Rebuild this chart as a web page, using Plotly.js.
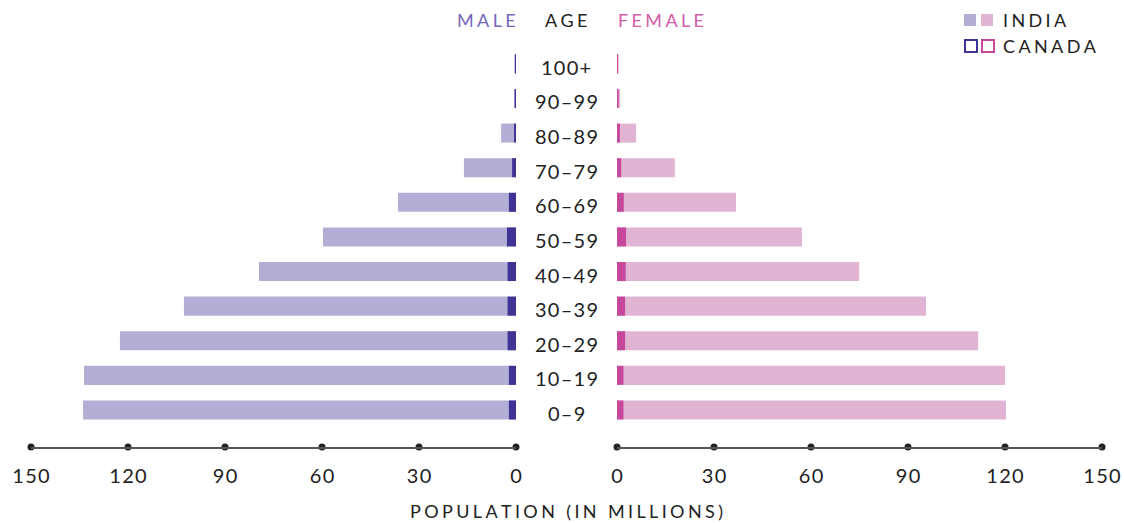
<!DOCTYPE html>
<html>
<head>
<meta charset="utf-8">
<script src="https://cdn.plot.ly/plotly-3.0.1.min.js"></script>
<style>html,body{margin:0;padding:0;background:#fff;}#chart{width:1124px;height:523px;}</style>
</head>
<body>
<div id="chart"></div>
<script>
// ---- data (millions) ----
const ages = ['0–9','10–19','20–29','30–39','40–49','50–59','60–69','70–79','80–89','90–99','100+'];
const indiaMale   = [133.9, 133.6, 122.5, 102.7, 79.5, 59.7, 36.5, 16.1, 4.6, 0.6, 0.1];
const indiaFemale = [120.3, 120.0, 111.7, 95.6, 74.9, 57.2, 36.8, 17.9, 5.9, 1.0, 0.3];
const canadaMale   = [2.2, 2.2, 2.6, 2.6, 2.6, 2.8, 2.2, 1.2, 0.6, 0.4, 0.4];
const canadaFemale = [2.0, 2.0, 2.5, 2.5, 2.7, 2.8, 2.1, 1.3, 0.9, 0.5, 0.4];
const tickVals = [0, 30, 60, 90, 120, 150];
const headers = ['MALE', 'AGE', 'FEMALE'];
const legendLabels = ['INDIA', 'CANADA'];
const axisTitle = 'POPULATION (IN MILLIONS)';

// ---- styles ----
const C = {
  indiaM: '#b3aed6', indiaF: '#e2b4d4',
  canM: '#3f3496', canF: '#c5489c',
  maleTxt: '#7467bb', femTxt: '#d45ca9', txt: '#222222', axis: '#555555'
};
const FONT = 'Lato, "Noto Sans", sans-serif';
const W = 1124, H = 523;
const M = {l: 31, r: 22, t: 40, b: 76};
const PW = W - M.l - M.r, PH = H - M.t - M.b;
const px = x => (x - M.l) / PW;
const py = y => (H - M.b - y) / PH;
const wide = s => s.split('').join('\u2009\u200A');
const tight = s => String(s).split('').join('\u200A');

const bar = (x, axis, color) => ({
  type: 'bar', orientation: 'h', y: ages, x: x, xaxis: axis, yaxis: 'y',
  marker: {color: color, line: {width: 0}}, hoverinfo: 'skip', showlegend: false
});
const dots = axis => ({
  type: 'scatter', mode: 'markers', x: tickVals, y: tickVals.map(() => 0),
  xaxis: axis, yaxis: 'y2', cliponaxis: false,
  marker: {color: '#222', size: 7}, hoverinfo: 'skip', showlegend: false
});

const data = [
  bar(indiaMale, 'x', C.indiaM),
  bar(indiaFemale, 'x2', C.indiaF),
  bar(canadaMale, 'x', C.canM),
  bar(canadaFemale, 'x2', C.canF),
  dots('x'), dots('x2')
];

const annotations = [];
ages.forEach(a => annotations.push({
  text: tight(a), x: px(566), xref: 'paper', y: a, yref: 'y', xanchor: 'center', yanchor: 'middle',
  yshift: -3, showarrow: false, font: {family: FONT, size: 20, color: C.txt}
}));
const headX = [486, 566, 661];
const headC = [C.maleTxt, C.txt, C.femTxt];
headers.forEach((h, i) => annotations.push({
  text: wide(h), x: px(headX[i]), xref: 'paper', y: py(20), yref: 'paper',
  xanchor: 'center', yanchor: 'middle', showarrow: false,
  font: {family: FONT, size: 18, color: headC[i]}
}));
legendLabels.forEach((l, i) => annotations.push({
  text: wide(l), x: px(1001), xref: 'paper', y: py(20 + 26 * i), yref: 'paper',
  xanchor: 'left', yanchor: 'middle', showarrow: false,
  font: {family: FONT, size: 18, color: C.txt}
}));
annotations.push({
  text: wide(axisTitle), x: px(566), xref: 'paper', y: py(511), yref: 'paper',
  xanchor: 'center', yanchor: 'middle', showarrow: false,
  font: {family: FONT, size: 18, color: C.txt}
});

const shapes = [];
const sq = (x, y, fill, stroke) => ({
  type: 'rect', xref: 'paper', yref: 'paper',
  x0: px(x), x1: px(x + 12), y0: py(y + 6), y1: py(y - 6),
  fillcolor: fill, line: {width: stroke ? 2 : 0, color: stroke || fill}
});
shapes.push(sq(964, 20, C.indiaM), sq(981, 20, C.indiaF));
shapes.push(sq(965, 46, 'rgba(0,0,0,0)', C.canM), sq(982, 46, 'rgba(0,0,0,0)', C.canF));

const xcommon = {
  tickvals: tickVals, ticktext: tickVals.map(tight), ticks: '', showgrid: false, zeroline: false,
  showline: true, linecolor: C.axis, linewidth: 2, ticklabelstandoff: 10,
  tickfont: {family: FONT, size: 20, color: C.txt}, fixedrange: true
};

const layout = {
  width: W, height: H, margin: M, paper_bgcolor: '#fff', plot_bgcolor: '#fff',
  barmode: 'overlay', bargap: 0.45, showlegend: false,
  xaxis: Object.assign({}, xcommon, {domain: [0, px(516)], range: [150, 0], anchor: 'y'}),
  xaxis2: Object.assign({}, xcommon, {domain: [px(617), 1], range: [0, 150], anchor: 'y'}),
  yaxis: {type: 'category', range: [-1.07, 10.69], showticklabels: false, showgrid: false,
          zeroline: false, showline: false, ticks: '', anchor: 'x', fixedrange: true},
  yaxis2: {range: [0, 1], overlaying: 'y', visible: false, showgrid: false, zeroline: false,
           anchor: 'x', fixedrange: true},
  annotations: annotations, shapes: shapes
};

Plotly.newPlot('chart', data, layout, {displayModeBar: false, staticPlot: true});
</script>
</body>
</html>
